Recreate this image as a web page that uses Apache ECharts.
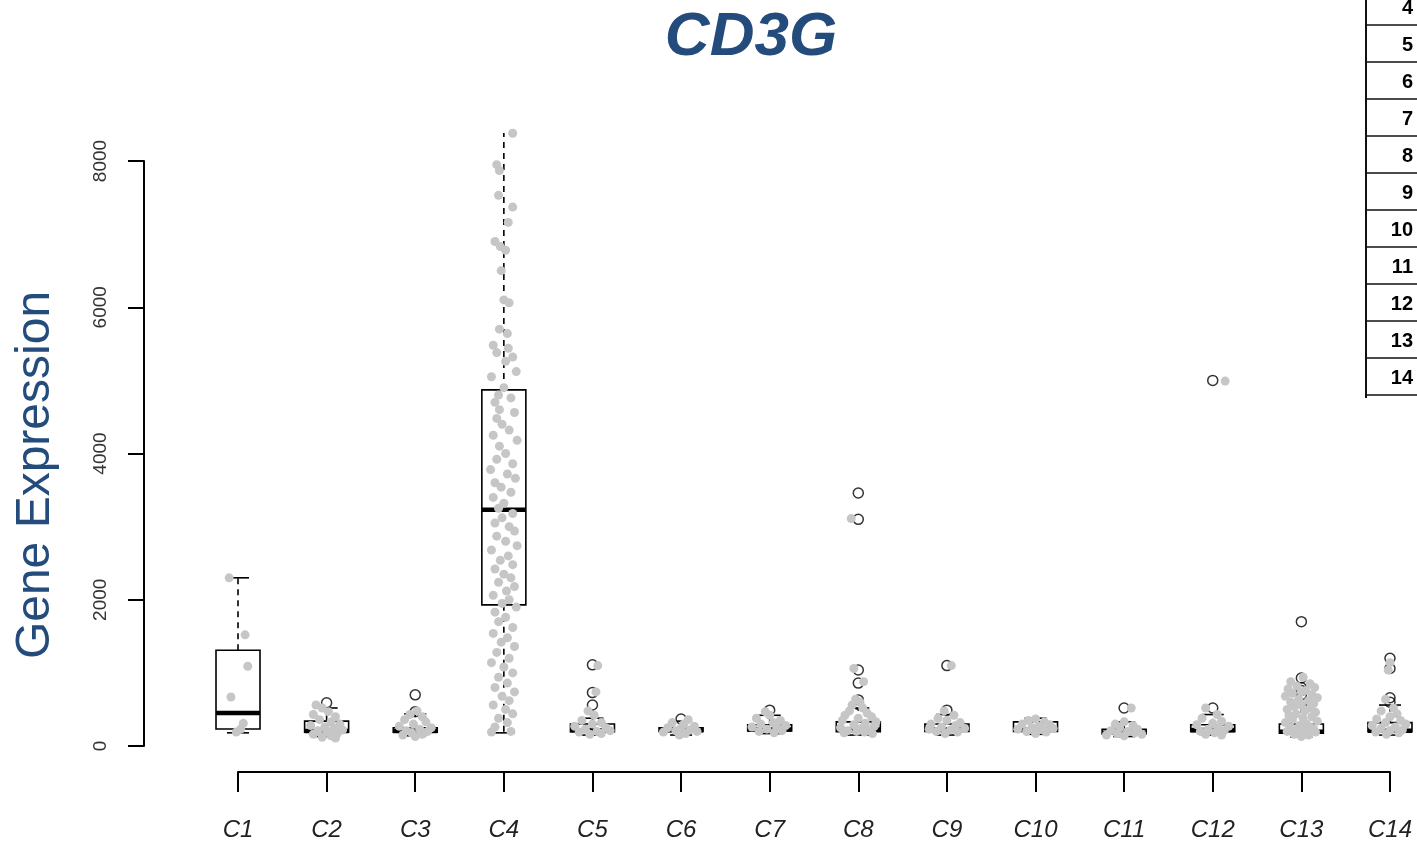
<!DOCTYPE html>
<html>
<head>
<meta charset="utf-8">
<title>CD3G</title>
<script src="https://cdn.jsdelivr.net/npm/echarts@6/dist/echarts.min.js"></script>
<style>
  html, body { margin: 0; padding: 0; background: #fff; }
  #chart { width: 1417px; height: 845px; }
</style>
</head>
<body>
<div id="chart"></div>
<script>
// clusters on the x axis
const categories = ['C1', 'C2', 'C3', 'C4', 'C5', 'C6', 'C7', 'C8', 'C9', 'C10', 'C11', 'C12', 'C13', 'C14'];
const yTicks = [0, 2000, 4000, 6000, 8000];
const plotTop = 8383; // upper edge of the plotting region (C4 whisker is cut there)
const tableRows = ['4', '5', '6', '7', '8', '9', '10', '11', '12', '13', '14'];

// [min, Q1, median, Q3, max] per cluster
const boxStats = [
  [180, 232, 450, 1310, 2300],
  [130, 190, 205, 340, 520],
  [140, 190, 205, 250, 440],
  [180, 1930, 3230, 4870, 8700],
  [150, 195, 215, 300, 380],
  [150, 200, 215, 250, 340],
  [170, 205, 225, 290, 420],
  [150, 195, 225, 330, 520],
  [150, 200, 225, 300, 430],
  [160, 200, 225, 330, 380],
  [130, 165, 180, 230, 330],
  [150, 195, 220, 290, 430],
  [120, 175, 195, 300, 560],
  [150, 195, 210, 320, 560]
];

// outlier circles per cluster
const outliers = [
  [],
  [590],
  [700, 470],
  [],
  [1110, 730, 560],
  [370],
  [490],
  [3460, 3100, 1040, 860, 630, 570],
  [1100, 490],
  [],
  [520],
  [5000, 520],
  [1700, 930, 800, 760, 700],
  [1200, 1060, 660, 600]
];

// jittered cells: [offset from cluster centre, expression]
const jitter = [
  [[-0.1, 2300], [0.08, 1520], [0.11, 1090], [-0.08, 670], [0.06, 310], [-0.02, 190], [0.03, 230]],
  [[-0.12, 560], [-0.05, 520], [0.02, 470], [-0.15, 430], [0.1, 400], [-0.08, 360], [0.05, 330], [0.15, 300], [-0.18, 280],
   [-0.02, 260], [0.08, 240], [0.18, 220], [-0.1, 210], [0.0, 190], [0.12, 170], [-0.15, 160], [0.05, 140], [-0.05, 120], [0.1, 110]],
  [[0.02, 480], [-0.06, 430], [0.08, 400], [-0.12, 360], [0.12, 330], [-0.02, 300], [-0.18, 270], [0.18, 250], [0.05, 230],
   [-0.1, 210], [0.14, 200], [-0.04, 180], [0.08, 160], [-0.14, 150], [0.0, 130]],
  [[0.1, 8380], [-0.08, 7950], [-0.05, 7870], [-0.06, 7530], [0.1, 7370], [0.05, 7160], [-0.1, 6900], [-0.04, 6830], [0.02, 6780],
   [-0.03, 6500], [0.0, 6100], [0.06, 6060], [-0.05, 5700], [0.04, 5640], [-0.12, 5480], [0.05, 5440], [-0.08, 5380], [0.1, 5320],
   [0.02, 5260], [0.14, 5120], [-0.14, 5050], [0.0, 4900], [-0.06, 4800], [0.08, 4760], [-0.1, 4700], [-0.05, 4600], [0.12, 4560],
   [-0.08, 4480], [-0.02, 4400], [0.06, 4320], [-0.12, 4250], [0.15, 4180], [-0.05, 4100], [0.02, 4000], [-0.08, 3920], [0.1, 3860],
   [-0.15, 3780], [0.04, 3720], [0.13, 3660], [-0.1, 3600], [-0.03, 3540], [0.08, 3470], [-0.12, 3400], [0.0, 3320], [-0.06, 3250],
   [0.1, 3180], [-0.02, 3120], [-0.1, 3050], [0.06, 3000], [0.12, 2940], [-0.08, 2870], [0.02, 2800], [0.15, 2740], [-0.14, 2680],
   [0.05, 2600], [-0.04, 2540], [0.1, 2480], [-0.1, 2420], [0.0, 2350], [0.08, 2300], [-0.06, 2240], [0.12, 2180], [0.03, 2120],
   [-0.12, 2060], [0.06, 2000], [-0.02, 1950], [0.14, 1900], [-0.1, 1830], [0.02, 1760], [-0.06, 1700], [0.1, 1620], [-0.12, 1540],
   [0.04, 1480], [-0.03, 1420], [0.12, 1360], [-0.08, 1280], [0.06, 1200], [-0.14, 1140], [0.0, 1080], [0.1, 1000], [-0.06, 940],
   [0.04, 860], [-0.1, 800], [0.12, 740], [-0.02, 680], [0.06, 620], [-0.12, 560], [0.02, 500], [0.1, 440], [-0.06, 380],
   [0.04, 320], [-0.1, 260], [0.08, 200], [-0.14, 190]],
  [[0.06, 1100], [0.04, 740], [-0.05, 480], [0.02, 420], [-0.12, 350], [0.1, 320], [0.0, 300], [-0.2, 270], [0.15, 250],
   [-0.08, 230], [0.2, 210], [0.05, 200], [-0.15, 190], [0.1, 170], [-0.03, 160]],
  [[0.08, 360], [-0.1, 320], [0.03, 300], [0.15, 270], [-0.15, 250], [0.0, 240], [0.1, 220], [-0.06, 210], [0.18, 200],
   [-0.2, 190], [0.05, 170], [-0.02, 150]],
  [[-0.05, 470], [0.0, 420], [-0.15, 380], [0.12, 350], [0.04, 320], [-0.1, 300], [0.18, 280], [-0.2, 260], [0.08, 250],
   [-0.03, 230], [0.14, 210], [-0.12, 200], [0.05, 180]],
  [[-0.08, 3110], [-0.05, 1060], [0.06, 880], [-0.03, 640], [0.02, 600], [-0.07, 560], [0.05, 520], [-0.1, 480], [0.1, 450],
   [-0.15, 420], [0.15, 400], [0.0, 380], [-0.18, 350], [0.2, 330], [0.08, 310], [-0.05, 290], [0.18, 270], [-0.2, 250],
   [0.03, 240], [0.12, 220], [-0.12, 210], [-0.02, 200], [0.07, 190], [-0.16, 180], [0.16, 170]],
  [[0.05, 1100], [-0.03, 480], [0.08, 420], [-0.1, 380], [0.0, 350], [0.15, 320], [-0.18, 300], [0.1, 280], [-0.06, 260],
   [0.2, 240], [-0.2, 230], [0.04, 220], [-0.12, 200], [0.12, 190], [-0.02, 170]],
  [[0.0, 370], [-0.08, 350], [0.1, 330], [-0.15, 300], [0.16, 290], [0.04, 270], [-0.04, 250], [0.2, 240], [-0.2, 230],
   [0.08, 220], [-0.1, 200], [0.12, 190], [0.0, 170]],
  [[0.08, 520], [0.0, 330], [-0.1, 300], [0.1, 280], [-0.05, 250], [0.15, 230], [-0.15, 210], [0.04, 200], [0.12, 180],
   [-0.08, 170], [0.2, 160], [-0.2, 150], [0.0, 140]],
  [[0.14, 4990], [-0.08, 520], [0.05, 430], [-0.12, 380], [0.1, 340], [0.0, 310], [-0.18, 290], [0.18, 270], [0.06, 250],
   [-0.05, 230], [0.13, 210], [-0.14, 200], [0.02, 180], [-0.08, 160], [0.1, 150]],
  [[0.02, 940], [-0.12, 880], [0.1, 850], [-0.05, 820], [0.15, 800], [-0.15, 780], [0.05, 760], [0.0, 740], [-0.1, 720],
   [0.12, 700], [-0.18, 680], [0.18, 660], [-0.03, 640], [0.08, 620], [-0.12, 600], [0.14, 580], [0.0, 560], [-0.08, 540],
   [0.1, 520], [-0.16, 500], [0.04, 480], [0.16, 460], [-0.06, 440], [-0.14, 420], [0.12, 400], [0.02, 380], [-0.1, 360],
   [0.18, 340], [-0.18, 320], [0.06, 300], [-0.02, 280], [0.1, 260], [-0.12, 250], [0.14, 230], [-0.06, 220], [0.04, 210],
   [-0.16, 200], [0.16, 190], [0.0, 180], [-0.08, 160], [0.08, 150], [0.0, 130]],
  [[0.0, 1140], [-0.02, 1040], [-0.05, 640], [0.04, 520], [-0.1, 480], [0.08, 440], [0.0, 400], [-0.15, 370], [0.12, 350],
   [-0.05, 320], [0.18, 300], [-0.2, 280], [0.06, 260], [-0.1, 240], [0.14, 220], [0.0, 210], [-0.16, 190], [0.1, 180], [-0.04, 160]]
];

const font = 'Liberation Sans, Arial, Helvetica, sans-serif';
const chart = echarts.init(document.getElementById('chart'));

const boxData = boxStats.map((s, i) => [i].concat(s));
const outlierData = [];
outliers.forEach((list, i) => list.forEach(v => outlierData.push([i, v])));
const jitterData = [];
jitter.forEach((list, i) => list.forEach(p => jitterData.push([i + p[0], p[1]])));

function renderBox(params, api) {
  const idx = api.value(0);
  const pMin = api.coord([idx, api.value(1)]);
  const pQ1 = api.coord([idx, api.value(2)]);
  const pMed = api.coord([idx, api.value(3)]);
  const pQ3 = api.coord([idx, api.value(4)]);
  const pMax = api.coord([idx, api.value(5)]);
  const cx = pMed[0];
  const hw = 22, cw = 11;
  const solid = { stroke: '#000', lineWidth: 1.6 };
  const dashed = { stroke: '#000', lineWidth: 1.6, lineDash: [6, 5] };
  return {
    type: 'group',
    children: [
      { type: 'line', shape: { x1: cx, y1: pQ3[1], x2: cx, y2: pMax[1] }, style: dashed },
      { type: 'line', shape: { x1: cx, y1: pQ1[1], x2: cx, y2: pMin[1] }, style: dashed },
      { type: 'line', shape: { x1: cx - cw, y1: pMax[1], x2: cx + cw, y2: pMax[1] }, style: solid },
      { type: 'line', shape: { x1: cx - cw, y1: pMin[1], x2: cx + cw, y2: pMin[1] }, style: solid },
      { type: 'rect', shape: { x: cx - hw, y: pQ3[1], width: hw * 2, height: pQ1[1] - pQ3[1] },
        style: { fill: 'none', stroke: '#000', lineWidth: 1.6 } },
      { type: 'line', shape: { x1: cx - hw, y1: pMed[1], x2: cx + hw, y2: pMed[1] },
        style: { stroke: '#000', lineWidth: 4.5 } }
    ]
  };
}

// the partial table at top right
const tableGraphics = [
  { type: 'line', shape: { x1: 1366, y1: 0, x2: 1366, y2: 398 }, style: { stroke: '#111', lineWidth: 2 } }
];
tableRows.forEach((t, i) => {
  tableGraphics.push({ type: 'line', shape: { x1: 1366, y1: 25 + 37 * i, x2: 1417, y2: 25 + 37 * i },
    style: { stroke: '#111', lineWidth: 1.5 } });
  tableGraphics.push({ type: 'text', x: 1413, y: 8 + 37 * i,
    style: { text: t, font: 'bold 20px ' + font, fill: '#000', textAlign: 'right', textVerticalAlign: 'middle' } });
});

const hidden = { show: false };

const option = {
  animation: false,
  backgroundColor: '#fff',
  title: {
    text: 'CD3G',
    left: 746,
    top: 2,
    textAlign: 'center',
    textStyle: { fontFamily: font, fontSize: 62, fontWeight: 'bold', fontStyle: 'italic', color: '#234b7c' }
  },
  graphic: [
    { type: 'text', x: 36, y: 475, rotation: Math.PI / 2,
      style: { text: 'Gene Expression', font: '48px ' + font, fill: '#234b7c', textAlign: 'center', textVerticalAlign: 'middle' } }
  ].concat(tableGraphics),
  grid: [
    // data area: half a slot left of C1, running to the page edge (cut off there, like the reference)
    { left: 193.7, right: 0, top: 133, bottom: 99 },
    // y axis, standing off to the left like R draws it
    { left: 144, width: 20, top: 161, bottom: 99 },
    // x axis, below the data area
    { left: 238, right: 27, top: 161, bottom: 73 }
  ],
  xAxis: [
    { gridIndex: 0, type: 'value', min: -0.5, max: 13.305, show: false },
    { gridIndex: 1, type: 'value', min: 0, max: 1, show: false },
    {
      gridIndex: 2,
      type: 'category',
      data: categories,
      boundaryGap: false,
      axisLine: { lineStyle: { color: '#000', width: 2 } },
      axisTick: { length: 20, lineStyle: { color: '#000', width: 2 } },
      axisLabel: { interval: 0, margin: 46, fontFamily: font, fontSize: 24, fontStyle: 'italic', color: '#222' },
      splitLine: hidden
    }
  ],
  yAxis: [
    { gridIndex: 0, type: 'value', min: yTicks[0], max: plotTop, show: false },
    {
      gridIndex: 1,
      type: 'value',
      min: yTicks[0],
      max: yTicks[yTicks.length - 1],
      interval: 2000,
      axisLine: { show: true, lineStyle: { color: '#000', width: 2 } },
      axisTick: { show: true, length: 16, lineStyle: { color: '#000', width: 2 } },
      axisLabel: { rotate: 90, margin: 34, fontFamily: font, fontSize: 19, color: '#333', formatter: v => String(v) },
      splitLine: hidden
    },
    { gridIndex: 2, type: 'value', min: 0, max: 1, show: false }
  ],
  series: [
    {
      type: 'custom',
      xAxisIndex: 0,
      yAxisIndex: 0,
      renderItem: renderBox,
      encode: { x: 0, y: [1, 2, 3, 4, 5] },
      data: boxData,
      clip: true,
      silent: true
    },
    {
      type: 'scatter',
      xAxisIndex: 0,
      yAxisIndex: 0,
      data: outlierData,
      symbol: 'circle',
      symbolSize: 10,
      clip: false,
      silent: true,
      itemStyle: { color: 'rgba(0,0,0,0)', borderColor: '#000', borderWidth: 1.5 }
    },
    {
      type: 'scatter',
      xAxisIndex: 0,
      yAxisIndex: 0,
      data: jitterData,
      symbol: 'circle',
      symbolSize: 9,
      clip: true,
      silent: true,
      itemStyle: { color: '#c6c6c6', opacity: 1 }
    }
  ]
};

chart.setOption(option);
</script>
</body>
</html>
